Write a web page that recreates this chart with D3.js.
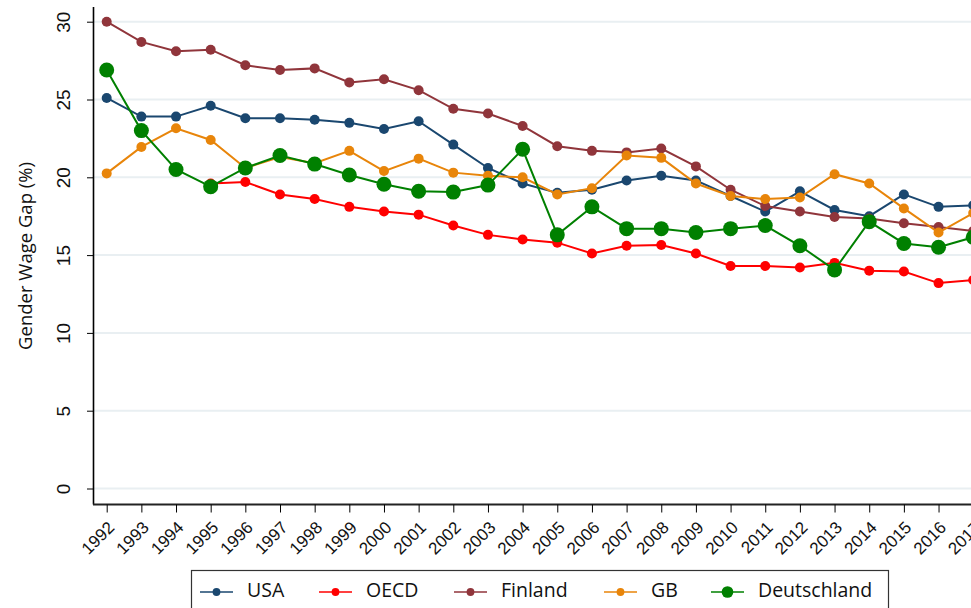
<!DOCTYPE html>
<html>
<head>
<meta charset="utf-8">
<script src="https://cdn.jsdelivr.net/npm/d3@7"></script>
<style>
  body { margin: 0; background: #fff; }
  svg { display: block; font-family: "Open Sans", sans-serif; }
</style>
</head>
<body>
<div id="chart"></div>
<script>
// chart values
const years = [1992, 1993, 1994, 1995, 1996, 1997, 1998, 1999, 2000, 2001, 2002, 2003, 2004,
               2005, 2006, 2007, 2008, 2009, 2010, 2011, 2012, 2013, 2014, 2015, 2016, 2017];
const usa = [25.1, 23.9, 23.9, 24.6, 23.8, 23.8, 23.7, 23.5, 23.1, 23.6, 22.1, 20.6, 19.6,
             19.0, 19.2, 19.8, 20.1, 19.8, 18.8, 17.8, 19.1, 17.9, 17.5, 18.9, 18.1, 18.2];
const oecd = [null, null, null, 19.6, 19.7, 18.9, 18.6, 18.1, 17.8, 17.6, 16.9, 16.3, 16.0,
              15.8, 15.1, 15.6, 15.65, 15.1, 14.3, 14.3, 14.2, 14.5, 14.0, 13.95, 13.2, 13.4];
const finland = [30.0, 28.7, 28.1, 28.2, 27.2, 26.9, 27.0, 26.1, 26.3, 25.6, 24.4, 24.1, 23.3,
                 22.0, 21.7, 21.6, 21.85, 20.7, 19.2, 18.15, 17.8, 17.45, 17.35, 17.05, 16.8, 16.55];
const gb = [20.25, 21.95, 23.15, 22.4, 20.6, 21.3, 20.9, 21.7, 20.4, 21.2, 20.3, 20.1, 20.0,
            18.9, 19.3, 21.4, 21.25, 19.6, 18.8, 18.6, 18.7, 20.2, 19.6, 18.0, 16.45, 17.7];
const deutschland = [26.9, 23.0, 20.5, 19.4, 20.6, 21.4, 20.85, 20.15, 19.55, 19.1, 19.05, 19.5, 21.8,
                     16.3, 18.1, 16.7, 16.7, 16.45, 16.7, 16.9, 15.6, 14.05, 17.15, 15.75, 15.5, 16.15];
const yTicks = [0, 5, 10, 15, 20, 25, 30];
const seriesNames = ["USA", "OECD", "Finland", "GB", "Deutschland"];

const WIDTH = 971, HEIGHT = 608;
const AXIS_X = 93, AXIS_Y = 504.5;

const series = [
  { name: "USA", values: usa, color: "#1a476f", r: 5 },
  { name: "OECD", values: oecd, color: "#ff0000", r: 5 },
  { name: "Finland", values: finland, color: "#90353b", r: 5 },
  { name: "GB", values: gb, color: "#e8850a", r: 5 },
  { name: "Deutschland", values: deutschland, color: "#008000", r: 7.5 }
];

const svg = d3.select("#chart").append("svg")
  .attr("width", WIDTH)
  .attr("height", HEIGHT);

const xScale = d3.scaleLinear().domain([1992, 2017]).range([106.7, 973.2]);
const yScale = d3.scaleLinear().domain([0, 30]).range([488.5, 21.7]);

// grid
svg.append("g").selectAll("line")
  .data(yTicks)
  .enter().append("line")
  .attr("x1", AXIS_X)
  .attr("x2", WIDTH)
  .attr("y1", d => yScale(d))
  .attr("y2", d => yScale(d))
  .attr("stroke", "#e9eff2")
  .attr("stroke-width", 2);

// y axis
const yAxis = svg.append("g")
  .attr("transform", "translate(" + AXIS_X + ",0)")
  .call(d3.axisLeft(yScale).tickValues(yTicks).tickSize(6).tickPadding(0));
yAxis.select(".domain").attr("d", "M0.5,7V" + AXIS_Y).attr("stroke", "#000").attr("stroke-width", 1.6);
yAxis.selectAll(".tick line").attr("stroke", "#000");
yAxis.selectAll(".tick text")
  .attr("font-size", 19)
  .attr("fill", "#111")
  .attr("text-anchor", "middle")
  .attr("x", 0).attr("dy", 0)
  .attr("transform", "translate(-28,0) rotate(-90)")
  .attr("dominant-baseline", "middle");

// x axis
const xAxis = svg.append("g")
  .attr("transform", "translate(0," + AXIS_Y + ")")
  .call(d3.axisBottom(xScale).tickValues(years).tickFormat(d3.format("d")).tickSize(8).tickPadding(0));
xAxis.select(".domain").attr("d", "M" + AXIS_X + ",0H" + WIDTH).attr("stroke", "#222").attr("stroke-width", 2);
xAxis.selectAll(".tick line").attr("stroke", "#000");
xAxis.selectAll(".tick text")
  .attr("font-size", 17)
  .attr("fill", "#111")
  .attr("text-anchor", "end")
  .attr("y", 0).attr("dy", 0)
  .attr("transform", "translate(5,21) rotate(-45)")
  .attr("dominant-baseline", "middle");

// axis title
svg.append("text")
  .attr("transform", "translate(27,256) rotate(-90)")
  .attr("text-anchor", "middle")
  .attr("dominant-baseline", "middle")
  .attr("font-size", 18.5)
  .attr("fill", "#111")
  .text("Gender Wage Gap (%)");

// lines and markers
const line = d3.line()
  .defined(d => d.v != null)
  .x(d => xScale(d.year))
  .y(d => yScale(d.v));

series.forEach(s => {
  const pts = years.map((y, i) => ({ year: y, v: s.values[i] }));
  const g = svg.append("g");
  g.append("path")
    .datum(pts)
    .attr("fill", "none")
    .attr("stroke", s.color)
    .attr("stroke-width", 2)
    .attr("d", line);
  g.selectAll("circle")
    .data(pts.filter(d => d.v != null))
    .enter().append("circle")
    .attr("cx", d => xScale(d.year))
    .attr("cy", d => yScale(d.v))
    .attr("r", s.r)
    .attr("fill", s.color);
});

// legend
const legendX = [200, 319, 454, 604, 711];
const legend = svg.append("g");
legend.append("rect")
  .attr("x", 191.5).attr("y", 570.5)
  .attr("width", 697).attr("height", 60)
  .attr("fill", "#fff")
  .attr("stroke", "#333")
  .attr("stroke-width", 1.2);
const item = legend.selectAll(".item")
  .data(series)
  .enter().append("g")
  .attr("class", "item")
  .attr("transform", (d, i) => "translate(" + legendX[i] + ",592)");
item.append("line")
  .attr("x1", 0).attr("x2", 33)
  .attr("stroke", d => d.color)
  .attr("stroke-width", 1.6);
item.append("circle")
  .attr("cx", 16.5)
  .attr("r", d => d.r * 0.78)
  .attr("fill", d => d.color);
item.append("text")
  .attr("x", 47)
  .attr("dominant-baseline", "middle")
  .attr("font-size", 19.5)
  .attr("fill", "#111")
  .text((d, i) => seriesNames[i]);
</script>
</body>
</html>
